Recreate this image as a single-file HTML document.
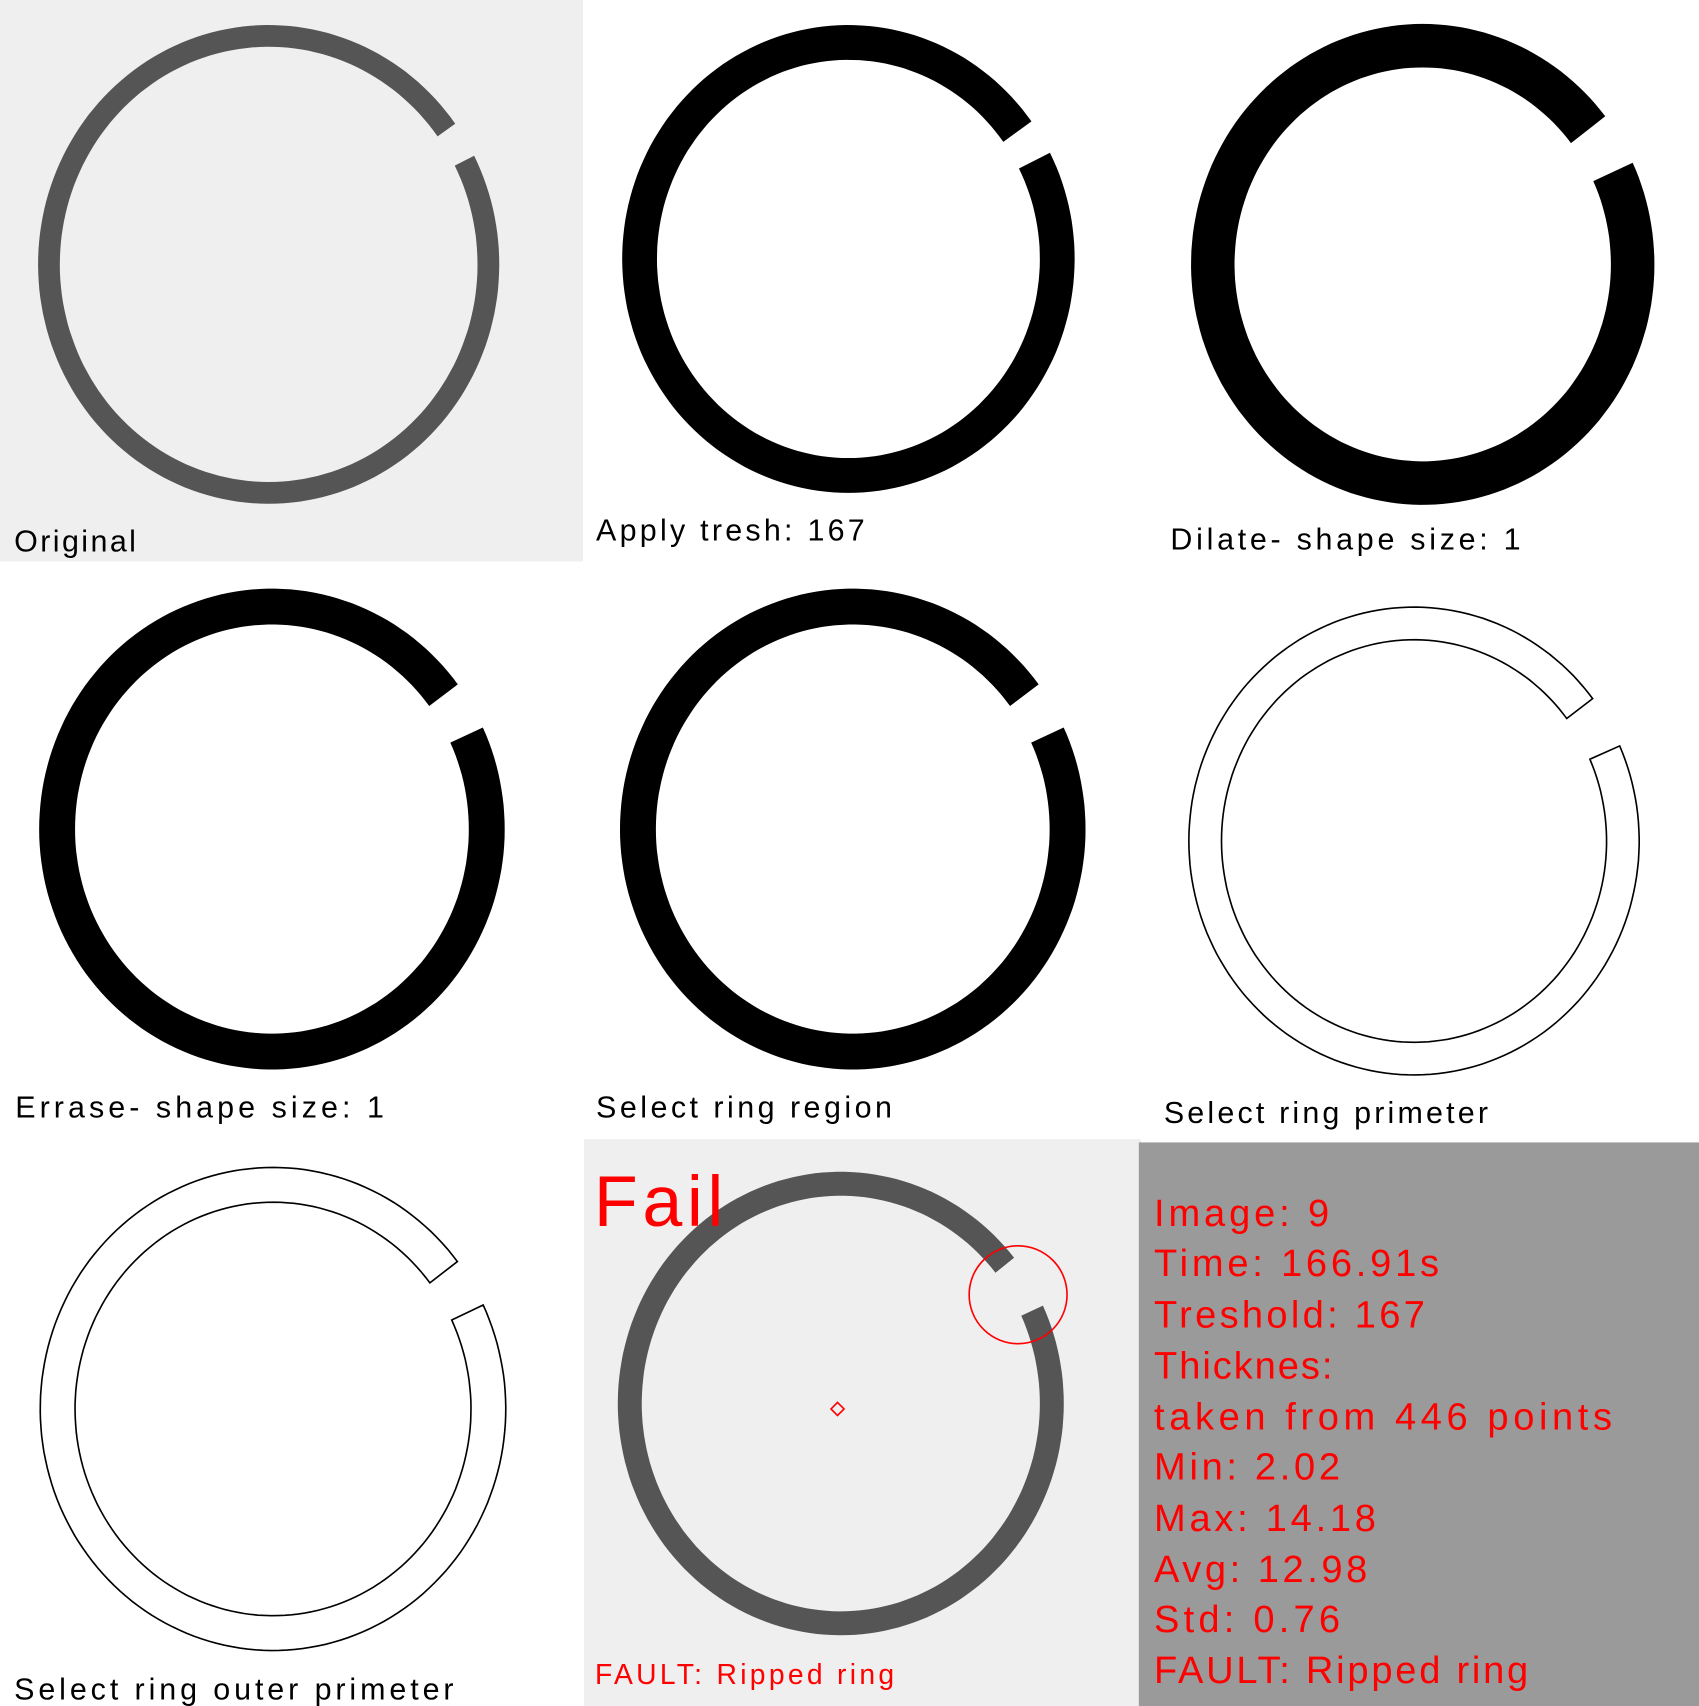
<!DOCTYPE html>
<html><head><meta charset="utf-8"><style>
html,body{margin:0;padding:0;background:#fff;}
svg{display:block;}
text{font-family:"Liberation Sans",sans-serif;}
</style></head><body>
<svg id="s" width="1699" height="1706" viewBox="0 0 1562 1568" preserveAspectRatio="none" xmlns="http://www.w3.org/2000/svg">
<rect x="0" y="0" width="536" height="516" fill="#efefef"/>
<rect x="537" y="1047" width="512" height="521" fill="#efefef"/>
<rect x="1047" y="1050" width="515" height="518" fill="#9a9a9a"/>
<g id="rings"></g>
<g font-size="28" fill="#000">
<text x="13" y="507" textLength="112" lengthAdjust="spacing">Original</text>
<text x="548" y="497" textLength="247" lengthAdjust="spacing">Apply tresh: 167</text>
<text x="1076" y="505" textLength="322" lengthAdjust="spacing">Dilate- shape size: 1</text>
<text x="14" y="1027" textLength="339" lengthAdjust="spacing">Errase- shape size: 1</text>
<text x="548" y="1027" textLength="272" lengthAdjust="spacing">Select ring region</text>
<text x="1070" y="1032" textLength="298" lengthAdjust="spacing">Select ring primeter</text>
<text x="13" y="1562" textLength="404" lengthAdjust="spacing">Select ring outer primeter</text>
</g>
<text x="546" y="1127" font-size="66" fill="#f00" textLength="119" lengthAdjust="spacing">Fail</text>
<circle cx="936" cy="1190" r="45" fill="none" stroke="#f00" stroke-width="1.5"/>
<path d="M770 1289 L776 1295 L770 1301 L764 1295 Z" fill="none" stroke="#f00" stroke-width="1.5"/>
<text x="547" y="1548" font-size="26" fill="#f00" textLength="275" lengthAdjust="spacing">FAULT: Ripped ring</text>
<g font-size="35" fill="#f00">
<text x="1061" y="1127" textLength="161" lengthAdjust="spacing">Image: 9</text>
<text x="1061" y="1173" textLength="262" lengthAdjust="spacing">Time: 166.91s</text>
<text x="1061" y="1220" textLength="249" lengthAdjust="spacing">Treshold: 167</text>
<text x="1061" y="1267" textLength="164" lengthAdjust="spacing">Thicknes:</text>
<text x="1061" y="1314" textLength="421" lengthAdjust="spacing">taken from 446 points</text>
<text x="1061" y="1360" textLength="171" lengthAdjust="spacing">Min: 2.02</text>
<text x="1061" y="1407" textLength="204" lengthAdjust="spacing">Max: 14.18</text>
<text x="1061" y="1454" textLength="196" lengthAdjust="spacing">Avg: 12.98</text>
<text x="1061" y="1500" textLength="171" lengthAdjust="spacing">Std: 0.76</text>
<text x="1061" y="1547" textLength="344" lengthAdjust="spacing">FAULT: Ripped ring</text>
</g>
</svg>
<script>
const ringNames=['ring-original','ring-threshold','ring-dilate','ring-errase','ring-region','ring-perimeter','ring-outer-perimeter','ring-fail'];
const ringCx=[247,780,1308,250,784,1300,251,773];
const ringCy=[243,238,243,762,762,773,1295,1290];
const ringRx=[212,208,213,214,214,207,214,205];
const ringRy=[220,215,221,221,221,215,222,213];
const ringTh=[20,32,40,33,33,30,32,22];
const gapStart=[-36,-36,-38,-37,-37,-37.5,-37.6,-39];
const gapEnd=[-27,-27,-25,-25,-25,-24,-25.5,-25];
const ringFill=['#555','#000','#000','#000','#000','none','none','#555'];
const g=document.getElementById('rings');
function pt(cx,cy,rx,ry,a){const r=a*Math.PI/180;return [cx+rx*Math.cos(r),cy+ry*Math.sin(r)];}
for(let i=0;i<ringNames.length;i++){
  const a1=gapEnd[i], a2=gapStart[i]+360, n=180;
  const ro=[ringRx[i],ringRy[i]], ri=[ringRx[i]-ringTh[i],ringRy[i]-ringTh[i]];
  let d='';
  for(let k=0;k<=n;k++){const a=a1+(a2-a1)*k/n;const p=pt(ringCx[i],ringCy[i],ro[0],ro[1],a);d+=(k?'L':'M')+p[0].toFixed(1)+' '+p[1].toFixed(1);}
  for(let k=n;k>=0;k--){const a=a1+(a2-a1)*k/n;const p=pt(ringCx[i],ringCy[i],ri[0],ri[1],a);d+='L'+p[0].toFixed(1)+' '+p[1].toFixed(1);}
  d+='Z';
  const el=document.createElementNS('http://www.w3.org/2000/svg','path');
  el.setAttribute('d',d);
  const f=ringFill[i];
  el.setAttribute('fill',f==='none'?'#fff':f);
  if(f==='none'){el.setAttribute('stroke','#000');el.setAttribute('stroke-width','1.5');}
  
  
  g.appendChild(el);
}
</script>
</body></html>
